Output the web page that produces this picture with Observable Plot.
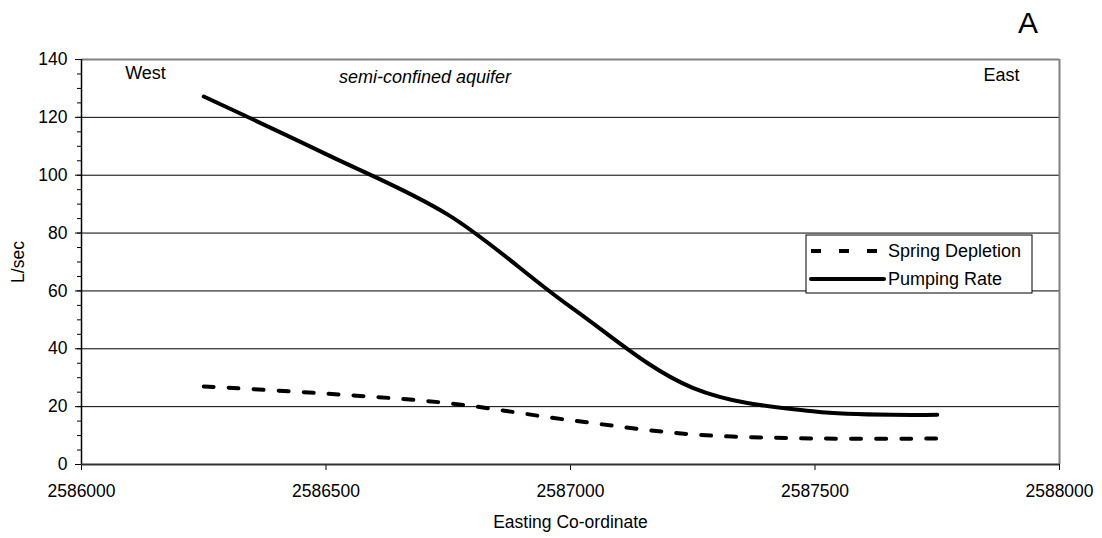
<!DOCTYPE html>
<html>
<head>
<meta charset="utf-8">
<script src="https://cdn.jsdelivr.net/npm/d3@7"></script>
<script src="https://cdn.jsdelivr.net/npm/@observablehq/plot@0.6"></script>
<style>
  html, body { margin: 0; padding: 0; background: #fff; }
  #chart { width: 1102px; height: 538px; }
</style>
</head>
<body>
<div id="chart"></div>
<script>
const easting = [2586250, 2586500, 2586750, 2587000, 2587250, 2587500, 2587750];
const pumpingRate = [127.2, 107.3, 86.3, 54.5, 26.5, 18.3, 17.2];
const springDepletion = [27, 24.5, 21.2, 15.3, 10.4, 9, 9];
const xTicks = [2586000, 2586500, 2587000, 2587500, 2588000];
const yTicks = [0, 20, 40, 60, 80, 100, 120, 140];
const yMinorTicks = d3.range(0, 141, 5);
const seriesNames = ["Spring Depletion", "Pumping Rate"];

const data = easting.map((e, i) => ({easting: e, pump: pumpingRate[i], spring: springDepletion[i]}));
const font = "'Liberation Sans', Arial, Helvetica, sans-serif";

const chart = Plot.plot({
  width: 1102,
  height: 538,
  marginLeft: 81,
  marginRight: 43,
  marginTop: 59,
  marginBottom: 74,
  style: {fontFamily: font, fontSize: "17.5px", color: "black", background: "white"},
  x: {domain: [2586000, 2588000]},
  y: {domain: [0, 140]},
  marks: [
    Plot.gridY(yTicks.filter(d => d > 0 && d < 140), {stroke: "black", strokeOpacity: 1, strokeWidth: 1}),
    Plot.ruleY([140], {stroke: "#808080", strokeWidth: 2}),
    Plot.ruleX([2588000], {stroke: "#808080", strokeWidth: 2}),
    Plot.axisY(yMinorTicks, {tickSize: 4, tickFormat: () => "", label: null}),
    Plot.axisY(yTicks, {tickSize: 6, tickPadding: 8, tickFormat: d => String(d), label: null}),
    Plot.axisX(xTicks, {tickSize: 6, tickPadding: 14, tickFormat: d => String(d), label: null}),
    Plot.ruleX([2586000], {stroke: "black", strokeWidth: 1.5}),
    Plot.ruleY([0], {stroke: "#333", strokeWidth: 2}),
    Plot.line(data, {x: "easting", y: "spring", stroke: "black", strokeWidth: 4, strokeDasharray: "10,15", curve: "catmull-rom"}),
    Plot.line(data, {x: "easting", y: "pump", stroke: "black", strokeWidth: 4, strokeLinecap: "round", curve: "catmull-rom"}),
    Plot.text(["West"], {frameAnchor: "top-left", textAnchor: "middle", lineAnchor: "middle", dx: 64, dy: 14, fontSize: 18}),
    Plot.text(["semi-confined aquifer"], {frameAnchor: "top-left", textAnchor: "middle", lineAnchor: "middle", dx: 343.5, dy: 18, fontSize: 18, fontStyle: "italic"}),
    Plot.text(["East"], {frameAnchor: "top-right", textAnchor: "middle", lineAnchor: "middle", dx: -58, dy: 16, fontSize: 18}),
    Plot.text(["A"], {frameAnchor: "top-right", textAnchor: "middle", lineAnchor: "middle", dx: -31.5, dy: -36, fontSize: 30}),
    Plot.text(["Easting Co-ordinate"], {frameAnchor: "bottom", textAnchor: "middle", lineAnchor: "middle", dy: 58, fontSize: 17.5}),
    Plot.text(["L/sec"], {frameAnchor: "left", textAnchor: "middle", lineAnchor: "middle", dx: -63, rotate: -90, fontSize: 17.5})
  ]
});

// Legend box inside the plot area
const svg = d3.select(chart);
const lg = svg.append("g").attr("font-family", font).attr("font-size", 18).attr("text-anchor", "start");
lg.append("rect").attr("x", 806).attr("y", 235).attr("width", 226).attr("height", 58)
  .attr("fill", "white").attr("stroke", "black").attr("stroke-width", 1);
const styles = [{dash: "10,18", cap: "butt"}, {dash: null, cap: "round"}];
seriesNames.forEach((name, i) => {
  const y = 251 + i * 28;
  const l = lg.append("line").attr("x1", 811).attr("x2", 884).attr("y1", y).attr("y2", y)
    .attr("stroke", "black").attr("stroke-width", 4).attr("stroke-linecap", styles[i].cap);
  if (styles[i].dash) l.attr("stroke-dasharray", styles[i].dash);
  lg.append("text").attr("x", 888).attr("y", y).attr("dy", "0.35em")
    .attr("text-anchor", "start").style("text-anchor", "start").text(name);
});

document.getElementById("chart").appendChild(chart);
</script>
</body>
</html>
